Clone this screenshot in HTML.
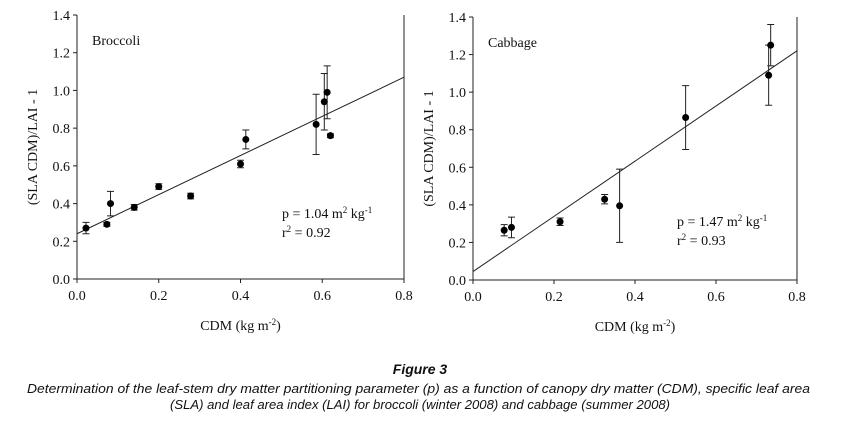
<!DOCTYPE html>
<html><head><meta charset="utf-8"><style>
body{margin:0;background:#fff;width:841px;height:416px;overflow:hidden}
svg text{font-family:"Liberation Serif",serif;fill:#111}
.cap{font-family:"Liberation Sans",sans-serif;font-style:italic}
</style></head><body>
<svg id="s" width="841" height="416" xmlns="http://www.w3.org/2000/svg">
<text class="cap" x="420" y="374" text-anchor="middle" font-size="14" font-weight="bold" style="font-family:'Liberation Sans',sans-serif">Figure 3</text>
<text class="cap" x="27" y="393" font-size="13" textLength="783" lengthAdjust="spacingAndGlyphs">Determination of the leaf-stem dry matter partitioning parameter (p) as a function of canopy dry matter (CDM), specific leaf area</text>
<text class="cap" x="420" y="409" text-anchor="middle" font-size="13" textLength="500" lengthAdjust="spacingAndGlyphs">(SLA) and leaf area index (LAI) for broccoli (winter 2008) and cabbage (summer 2008)</text>
</svg>
<script>
const brocX=[0.022,0.073,0.082,0.14,0.2,0.278,0.4,0.413,0.585,0.605,0.612,0.62];
const brocY=[0.27,0.29,0.40,0.38,0.49,0.44,0.61,0.74,0.82,0.94,0.99,0.76];
const brocErr=[0.03,0.01,0.065,0.015,0.015,0.015,0.02,0.05,0.16,0.15,0.14,0.01];
const brocFit=[0.24,1.07];
const cabX=[0.077,0.095,0.215,0.325,0.362,0.525,0.73,0.735];
const cabY=[0.265,0.28,0.31,0.43,0.395,0.865,1.09,1.25];
const cabErr=[0.03,0.055,0.02,0.025,0.195,0.17,0.16,0.11];
const cabFit=[0.045,1.22];
const xTicks=["0.0","0.2","0.4","0.6","0.8"];
const yTicks=["0.0","0.2","0.4","0.6","0.8","1.0","1.2","1.4"];
const NS="http://www.w3.org/2000/svg";
const svg=document.getElementById('s');
function mk(t,a,p){const e=document.createElementNS(NS,t);for(const k in a)e.setAttribute(k,a[k]);(p||svg).appendChild(e);return e;}
function chart(id,L,R,T,B,xs,ys,es,fit,title,ptxt,rtxt,tx,ty){
  const g=mk('g',{});
  
  
  const X=v=>L+(R-L)*v/0.8, Y=v=>B-(B-T)*v/1.4;
  const ax=mk('path',{d:`M${L},${T}V${B}H${R}V${T}`,fill:'none',stroke:'#222','stroke-width':1},g);
  
  
  xTicks.forEach((t,i)=>{const x=X(+t);mk('line',{x1:x,x2:x,y1:B,y2:B+4,stroke:'#222'},g);
    const e=mk('text',{x:x,y:B+21,'text-anchor':'middle','font-size':14},g);e.textContent=t;
    
    });
  yTicks.forEach((t,i)=>{const y=Y(+t);mk('line',{x1:L-4,x2:L,y1:y,y2:y,stroke:'#222'},g);
    const e=mk('text',{x:L-7,y:y+5,'text-anchor':'end','font-size':14},g);e.textContent=t;
    
    });
  const xl=mk('text',{x:(L+R)/2,y:B+51,'text-anchor':'middle','font-size':14},g);
  xl.innerHTML='CDM (kg m<tspan dy="-5" font-size="9">-2</tspan><tspan dy="5">)</tspan>';
  
  
  const yl=mk('text',{x:0,y:0,'text-anchor':'middle','font-size':14,transform:`translate(${L-40},${(T+B)/2}) rotate(-90)`},g);
  yl.textContent='(SLA CDM)/LAI - 1';
  
  
  const ln=mk('line',{x1:X(0),y1:Y(fit[0]),x2:X(0.8),y2:Y(fit[1]),stroke:'#222','stroke-width':1},g);
  
  
  xs.forEach((xv,i)=>{const x=X(xv),y1=Y(ys[i]+es[i]),y2=Y(ys[i]-es[i]);
    const eb=mk('path',{d:`M${x},${y1}V${y2}M${x-3.5},${y1}h7M${x-3.5},${y2}h7`,stroke:'#222',fill:'none'},g);
    
    
    const c=mk('circle',{cx:x,cy:Y(ys[i]),r:3.5,fill:'#000'},g);
    
    });
  const tt=mk('text',{x:L+15,y:T+30,'font-size':14},g);tt.textContent=title;
  
  
  const p=mk('text',{x:tx,y:ty,'font-size':14},g);
  p.innerHTML=ptxt;
  
  
  const r=mk('text',{x:tx,y:ty+19,'font-size':14},g);
  r.innerHTML=rtxt;
  
  
}
chart('broccoli-chart',77,404,15,279,brocX,brocY,brocErr,brocFit,'Broccoli',
 'p = 1.04 m<tspan dy="-5" font-size="9">2</tspan><tspan dy="5"> kg</tspan><tspan dy="-5" font-size="9">-1</tspan>',
 'r<tspan dy="-5" font-size="9">2</tspan><tspan dy="5"> = 0.92</tspan>',282,218);
chart('cabbage-chart',473,797,17,280,cabX,cabY,cabErr,cabFit,'Cabbage',
 'p = 1.47 m<tspan dy="-5" font-size="9">2</tspan><tspan dy="5"> kg</tspan><tspan dy="-5" font-size="9">-1</tspan>',
 'r<tspan dy="-5" font-size="9">2</tspan><tspan dy="5"> = 0.93</tspan>',677,226);
</script>
</body></html>
